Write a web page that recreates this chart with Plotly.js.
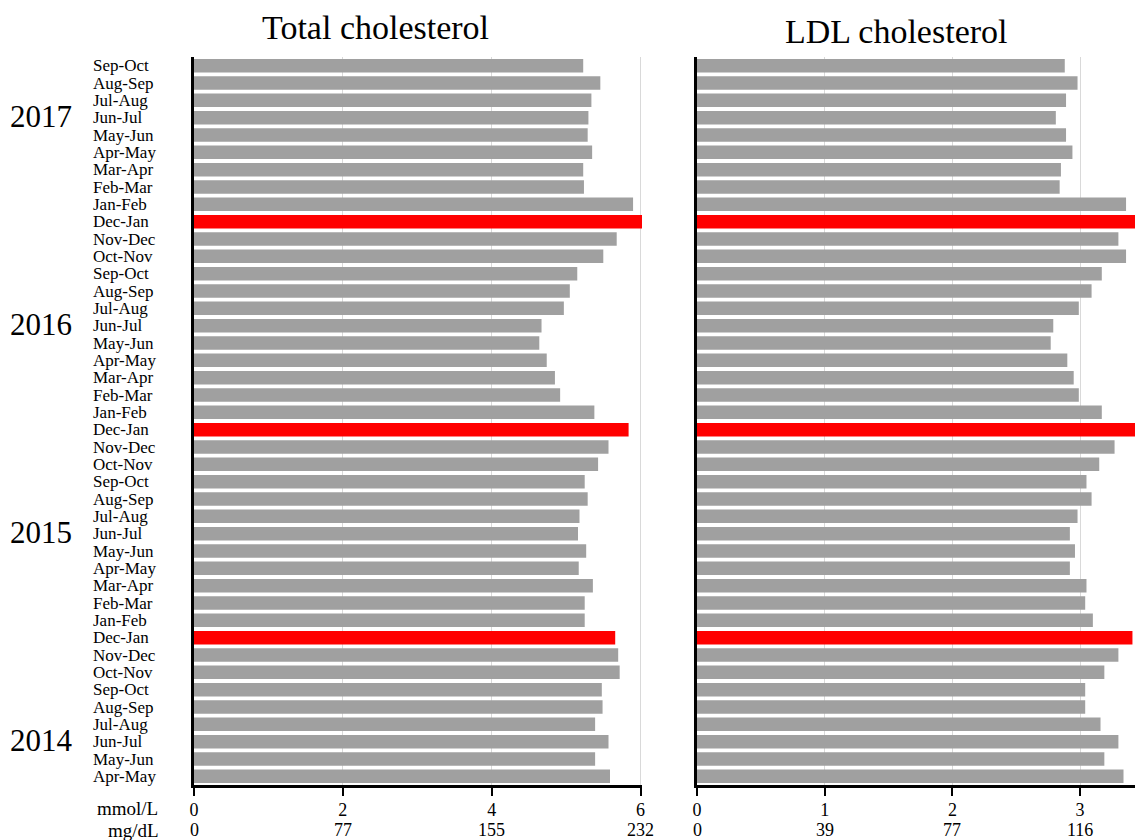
<!DOCTYPE html>
<html><head><meta charset="utf-8">
<script src="https://cdn.plot.ly/plotly-3.0.1.min.js"></script>
<style>html,body{margin:0;padding:0;background:#fff}</style>
</head><body>
<div id="chart" style="width:1135px;height:840px"></div>
<script>
// Periods, top to bottom
const periods = [
 'Sep-Oct','Aug-Sep','Jul-Aug','Jun-Jul','May-Jun','Apr-May','Mar-Apr','Feb-Mar','Jan-Feb','Dec-Jan',
 'Nov-Dec','Oct-Nov','Sep-Oct','Aug-Sep','Jul-Aug','Jun-Jul','May-Jun','Apr-May','Mar-Apr','Feb-Mar','Jan-Feb','Dec-Jan',
 'Nov-Dec','Oct-Nov','Sep-Oct','Aug-Sep','Jul-Aug','Jun-Jul','May-Jun','Apr-May','Mar-Apr','Feb-Mar','Jan-Feb','Dec-Jan',
 'Nov-Dec','Oct-Nov','Sep-Oct','Aug-Sep','Jul-Aug','Jun-Jul','May-Jun','Apr-May'
];
// Total cholesterol, mmol/L
const totalChol = [
 5.23,5.46,5.34,5.30,5.29,5.35,5.23,5.24,5.90,6.05,
 5.68,5.50,5.15,5.05,4.97,4.67,4.64,4.74,4.85,4.92,5.38,5.84,
 5.57,5.43,5.25,5.29,5.18,5.16,5.27,5.17,5.36,5.25,5.25,5.66,
 5.70,5.72,5.48,5.49,5.39,5.57,5.39,5.59
];
// LDL cholesterol, mmol/L
const ldlChol = [
 2.88,2.98,2.89,2.81,2.89,2.94,2.85,2.84,3.36,3.48,
 3.30,3.36,3.17,3.09,2.99,2.79,2.77,2.90,2.95,2.99,3.17,3.46,
 3.27,3.15,3.05,3.09,2.98,2.92,2.96,2.92,3.05,3.04,3.10,3.41,
 3.30,3.19,3.04,3.04,3.16,3.30,3.19,3.34
];
const highlightPeriod = 'Dec-Jan';
const years = ['2017','2016','2015','2014'];
const yearRow = [3, 15, 27, 39];
const totalTicksMmol = [0,2,4,6];
const totalTicksMgdl = ['0','77','155','232'];
const ldlTicksMmol = [0,1,2,3];
const ldlTicksMgdl = ['0','39','77','116'];
const unitLabels = ['mmol/L','mg/dL'];
const panelTitles = ['Total cholesterol','LDL cholesterol'];

const yIdx = periods.map((p,i)=>i);
const colors = periods.map(p => p===highlightPeriod ? '#ff0000' : '#a0a0a0');
const serif = '"Liberation Serif", "Times New Roman", serif';

const traces = [
 {type:'bar', orientation:'h', x: totalChol, y: yIdx, xaxis:'x', yaxis:'y',
  marker:{color:colors, line:{width:0}}, hoverinfo:'x'},
 {type:'bar', orientation:'h', x: ldlChol, y: yIdx, xaxis:'x2', yaxis:'y2',
  marker:{color:colors, line:{width:0}}, hoverinfo:'x'}
];

const annotations = [];
periods.forEach((p,i)=>{
  annotations.push({xref:'paper', yref:'y', x:91/1135, y:i, text:p, showarrow:false,
    xanchor:'left', yanchor:'middle', font:{family:serif, size:17, color:'#000'}});
});
years.forEach((yr,k)=>{
  annotations.push({xref:'paper', yref:'y', x:8/1135, y:yearRow[k], text:yr, showarrow:false,
    xanchor:'left', yanchor:'middle', yshift:1, font:{family:serif, size:31, color:'#000'}});
});
annotations.push({xref:'paper', yref:'paper', x:375/1135, y:1, yshift:30, text:panelTitles[0], showarrow:false,
  xanchor:'center', yanchor:'middle', font:{family:serif, size:34, color:'#000'}});
annotations.push({xref:'paper', yref:'paper', x:896/1135, y:1, yshift:26, text:panelTitles[1], showarrow:false,
  xanchor:'center', yanchor:'middle', font:{family:serif, size:34, color:'#000'}});
annotations.push({xref:'paper', yref:'paper', x:160/1135, y:0, yshift:-23, text:unitLabels[0], showarrow:false,
  xanchor:'right', yanchor:'middle', font:{family:serif, size:19, color:'#000'}});
annotations.push({xref:'paper', yref:'paper', x:161/1135, y:0, yshift:-45, text:unitLabels[1], showarrow:false,
  xanchor:'right', yanchor:'middle', font:{family:serif, size:19, color:'#000'}});
// second row of tick labels (mg/dL), placed through the x scales
totalTicksMmol.forEach((v,i)=>{
  annotations.push({xref:'x', yref:'paper', x:v, y:0, yshift:-45, text:totalTicksMgdl[i], showarrow:false,
    xanchor:'center', yanchor:'middle', font:{family:serif, size:18, color:'#000'}});
});
ldlTicksMmol.forEach((v,i)=>{
  annotations.push({xref:'x2', yref:'paper', x:v, y:0, yshift:-45, text:ldlTicksMgdl[i], showarrow:false,
    xanchor:'center', yanchor:'middle', font:{family:serif, size:18, color:'#000'}});
});

const xCommon = {
  showgrid:true, gridcolor:'#d9d9d9', gridwidth:1, zeroline:false,
  showline:true, linecolor:'#000', linewidth:3, ticks:'outside', ticklen:8, tickwidth:2, tickcolor:'#000',
  tickmode:'array', tickfont:{family:serif, size:18, color:'#000'}, ticklabelstandoff:-2, fixedrange:true
};
const yCommon = {
  range:[periods.length-0.5,-0.5], showgrid:false, zeroline:false, showticklabels:false,
  showline:true, linecolor:'#000', linewidth:3, ticks:'', fixedrange:true
};

const layout = {
  width:1135, height:840,
  margin:{l:0, r:0, t:57, b:55},
  paper_bgcolor:'#fff', plot_bgcolor:'#fff',
  showlegend:false, bargap:0.22,
  xaxis: Object.assign({}, xCommon, {domain:[194/1135, 642/1135], range:[0,6.02], anchor:'y',
    tickvals: totalTicksMmol, ticktext: totalTicksMmol.map(String)}),
  yaxis: Object.assign({}, yCommon, {anchor:'x'}),
  xaxis2: Object.assign({}, xCommon, {domain:[697/1135, 1], range:[0,3.43], anchor:'y2',
    tickvals: ldlTicksMmol, ticktext: ldlTicksMmol.map(String)}),
  yaxis2: Object.assign({}, yCommon, {anchor:'x2'}),
  annotations: annotations
};

Plotly.newPlot('chart', traces, layout, {displayModeBar:false, staticPlot:true});
</script>
</body></html>
